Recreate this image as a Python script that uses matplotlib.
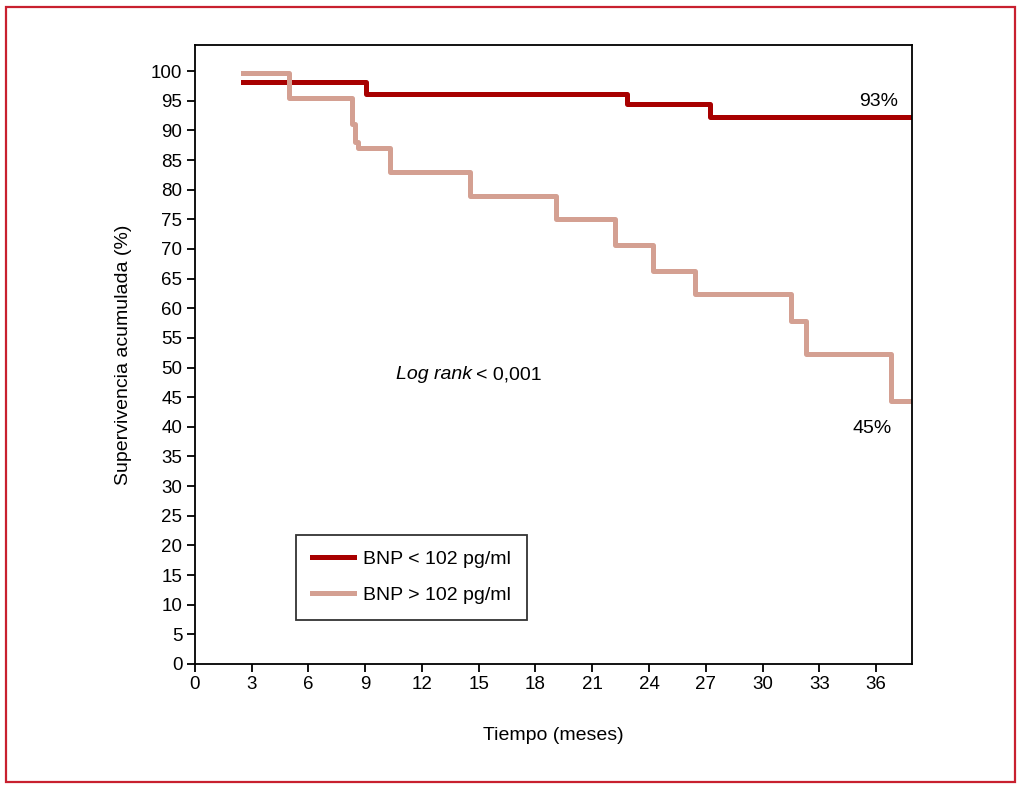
import matplotlib.pyplot as plt
from matplotlib.patches import Rectangle

plt.rcParams['font.family'] = ['Liberation Sans Narrow', 'Liberation Sans', 'DejaVu Sans']

# Datos (Kaplan-Meier)
t_bajo = [2.54, 9.05, 22.86, 27.2, 37.9]
s_bajo = [98.1, 96.1, 94.4, 92.2, 92.2]

t_alto = [2.54, 4.97, 8.3, 8.47, 8.6, 10.3, 14.55, 19.1, 22.2, 24.2, 26.45, 31.5, 32.3, 36.8, 37.9]
s_alto = [99.7, 95.4, 91.1, 88.0, 87.0, 83.0, 78.9, 75.0, 70.7, 66.3, 62.4, 57.8, 52.3, 44.4, 44.4]

xticks = list(range(0, 37, 3))
yticks = list(range(0, 101, 5))

fig = plt.figure(figsize=(10.24, 7.91), dpi=100)
ax = fig.add_axes([0.1904, 0.1606, 0.7002, 0.7825])

rojo = '#a80000'
rosa = '#d4a092'
ax.step(t_bajo, s_bajo, where='post', color=rojo, lw=3.6, label='BNP < 102 pg/ml')
ax.step(t_alto, s_alto, where='post', color=rosa, lw=3.6, label='BNP > 102 pg/ml')

ax.set_xlim(0, 37.9)
ax.set_ylim(0, 104.4)
ax.set_xticks(xticks)
ax.set_yticks(yticks)
ax.tick_params(direction='out', length=6, width=1.3, labelsize=13.5, pad=3)
for sp in ax.spines.values():
    sp.set_linewidth(1.3)

ax.set_xlabel('Tiempo (meses)', fontsize=14, labelpad=24)
ax.set_ylabel('Supervivencia acumulada (%)', fontsize=14, labelpad=14)

ax.text(35.1, 94.9, '93%', fontsize=14, ha='left', va='center')
ax.text(34.75, 39.8, '45%', fontsize=14, ha='left', va='center')
ax.text(10.6, 48.8, 'Log rank', fontsize=14, style='italic', ha='left', va='center')
ax.text(14.85, 48.8, '< 0,001', fontsize=14, ha='left', va='center')

leg = ax.legend(loc='upper left', bbox_to_anchor=(0.141, 0.2084), borderaxespad=0,
                fontsize=14, frameon=True, fancybox=False, edgecolor='black',
                handlelength=2.2, handletextpad=0.45, borderpad=0.8, labelspacing=0.95)
leg.get_frame().set_linewidth(1.3)

# Marco rojo de la figura
fig.patches.append(Rectangle((0.006, 0.011), 0.985, 0.98, transform=fig.transFigure,
                             fill=False, edgecolor='#c8202f', lw=1.6))

fig.savefig('out.png', dpi=100)
plt.close(fig)
